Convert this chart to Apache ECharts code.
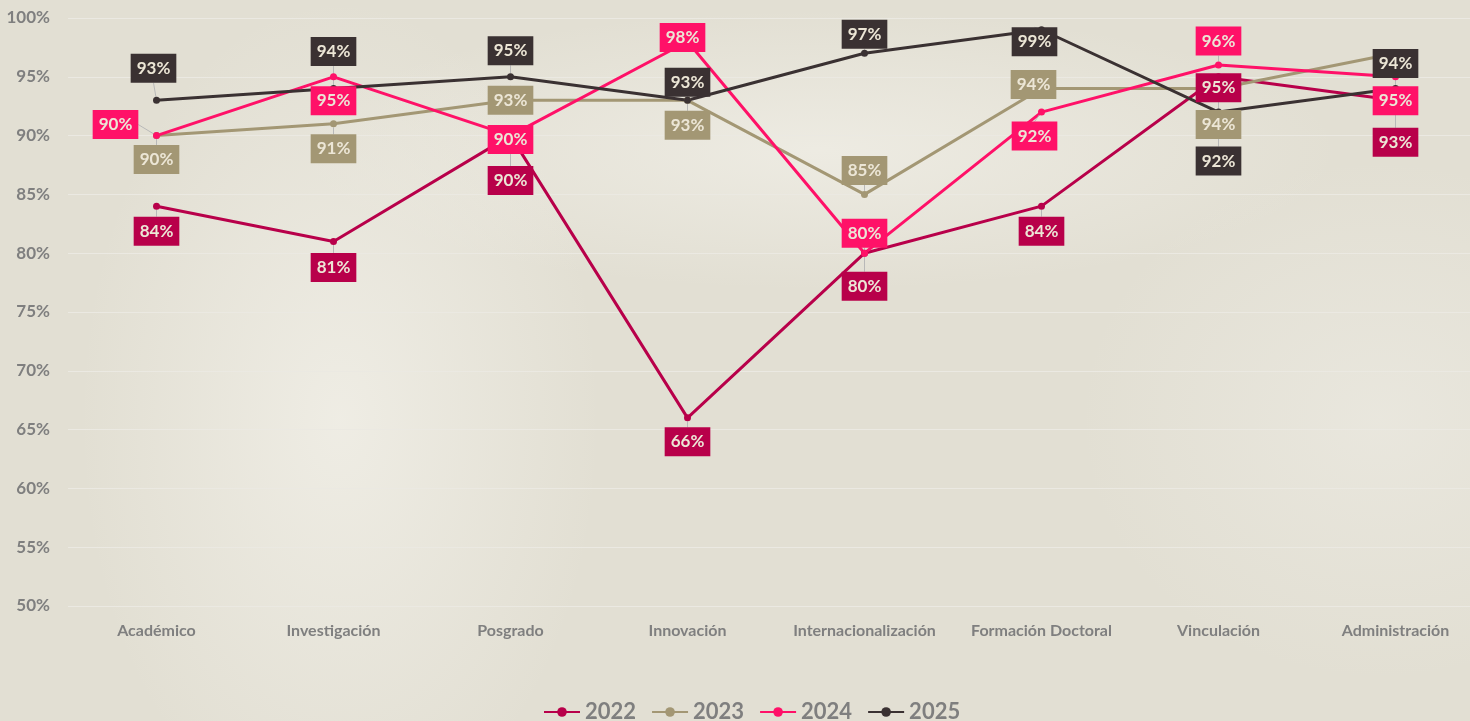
<!DOCTYPE html>
<html>
<head>
<meta charset="utf-8">
<script src="https://cdn.jsdelivr.net/npm/echarts@6/dist/echarts.min.js"></script>
<style>
html, body { margin: 0; padding: 0; }
body {
  width: 1470px; height: 721px; overflow: hidden;
  background-color: #e2dfd3;
  background-image:
    radial-gradient(ellipse 260px 420px at 340px 420px, rgba(240,238,230,0.9), rgba(240,238,230,0) 100%),
    radial-gradient(ellipse 520px 140px at 820px 150px, rgba(240,238,230,0.8), rgba(240,238,230,0) 100%),
    radial-gradient(ellipse 300px 260px at 1380px 420px, rgba(236,234,226,0.7), rgba(236,234,226,0) 100%);
}
#chart { width: 1484px; height: 721px; }
</style>
</head>
<body>
<div id="chart"></div>
<script>
// categorias y valores (%)
const categories = ['Académico', 'Investigación', 'Posgrado', 'Innovación', 'Internacionalización', 'Formación Doctoral', 'Vinculación', 'Administración'];
const years = ['2022', '2023', '2024', '2025'];
const v2022 = [84, 81, 90, 66, 80, 84, 95, 93];
const v2023 = [90, 91, 93, 93, 85, 94, 94, 97];
const v2024 = [90, 95, 90, 98, 80, 92, 96, 95];
const v2025 = [93, 94, 95, 93, 97, 99, 92, 94];
const yTicks = [50, 55, 60, 65, 70, 75, 80, 85, 90, 95, 100];

// desplazamiento de etiquetas [dx, dy] respecto al punto
const off2022 = [[0, 25], [0, 26], [0, 45], [0, 24], [0, 33], [0, 25], [0, 11], [0, 42]];
const off2023 = [[0, 24], [0, 25], [0, 0], [0, 25], [0, -24], [-8, -4], [0, 36], null];
const off2024 = [[-41, -11], [0, 24], [0, 4], [-5, -4], [0, -20], [-7, 24], [0, -24], [0, 24]];
const off2025 = [[-3, -32], [0, -37], [0, -26], [0, -18], [0, -19], [-7, 12], [0, 49], [0, -25]];

const colors = ['#b8004a', '#a39774', '#ff1168', '#3a3132'];

let myChart = echarts.init(document.getElementById('chart'));

function makeSeries (name, data, offs, color) {
  return {
    name: name,
    type: 'line',
    data: data.map(function (v, i) {
      return offs[i] ? v : { value: v, label: { show: false } };
    }),
    symbol: 'circle',
    symbolSize: 7,
    lineStyle: { width: 3, color: color },
    itemStyle: { color: color },
    label: {
      show: true,
      position: 'inside',
      formatter: '{c}%',
      backgroundColor: color,
      color: '#ece6d6',
      fontFamily: 'Lato',
      fontWeight: 'bold',
      fontSize: 17,
      padding: [6, 6, 6, 6]
    },
    labelLine: {
      show: true,
      lineStyle: { color: '#b8b8b8', width: 1 }
    },
    labelLayout: function (p) {
      const o = offs[p.dataIndex] || [0, 0];
      return { dx: o[0], dy: o[1] };
    },
    emphasis: { disabled: true }
  };
}

myChart.setOption({
  animation: false,
  color: colors,
  textStyle: { fontFamily: 'Lato' },
  grid: { left: 68, right: 0, top: 18, bottom: 115, containLabel: false },
  legend: {
    data: years,
    top: 696,
    left: 538,
    itemWidth: 36,
    itemHeight: 12,
    itemGap: 15,
    textStyle: { color: '#7f7f7f', fontSize: 22, fontWeight: 'bold', fontFamily: 'Lato' }
  },
  xAxis: {
    type: 'category',
    data: categories,
    boundaryGap: true,
    axisLine: { show: false },
    axisTick: { show: false },
    axisLabel: { color: '#7f7f7f', fontSize: 16, fontWeight: 'bold', margin: 17, interval: 0 }
  },
  yAxis: {
    type: 'value',
    min: yTicks[0],
    max: yTicks[yTicks.length - 1],
    interval: 5,
    axisLine: { show: false },
    axisTick: { show: false },
    axisLabel: { color: '#7f7f7f', fontSize: 17, fontWeight: 'bold', margin: 18, formatter: '{value}%' },
    splitLine: { lineStyle: { color: '#ebe9e2', width: 1 } }
  },
  series: [
    makeSeries(years[0], v2022, off2022, colors[0]),
    makeSeries(years[1], v2023, off2023, colors[1]),
    makeSeries(years[2], v2024, off2024, colors[2]),
    makeSeries(years[3], v2025, off2025, colors[3])
  ]
});
</script>
</body>
</html>
